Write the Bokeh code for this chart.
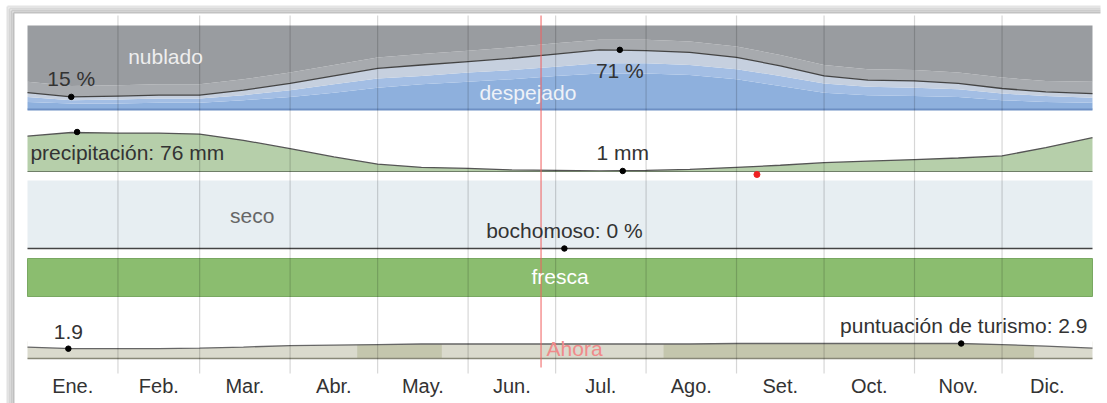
import numpy as np
from bokeh.plotting import figure
from bokeh.models import Range1d
from bokeh.core.properties import value
from bokeh.embed import file_html
from bokeh.resources import INLINE

# ---------------- data ----------------
months = ["Ene.", "Feb.", "Mar.", "Abr.", "May.", "Jun.", "Jul.", "Ago.", "Set.", "Oct.", "Nov.", "Dic."]
month_mid = [15.5, 45, 74.5, 105, 135.5, 166, 196.5, 227.5, 258, 288.5, 319, 349.5]
month_edges = [31, 59, 90, 120, 151, 181, 212, 243, 273, 304, 334]

days = [0, 15, 31, 45, 59, 74, 90, 105, 120, 135, 151, 166, 181, 196, 212, 227, 243, 258, 273, 288, 304, 319, 334, 349, 365]

# cloud cover cumulative boundaries (% of time)
cloud_clear = [9, 7, 7, 8, 8, 11, 15, 20, 26, 30, 33, 36, 40, 43, 43, 41, 36, 28, 20, 17, 16, 15, 11, 9, 8]
cloud_mostly_clear = [15, 11, 12, 13, 13, 17, 23, 30, 37, 40, 44, 47, 51, 55, 55, 53, 48, 40, 31, 27, 26, 24, 19, 16, 14]
cloud_line = [20, 15, 16, 17, 17, 23, 31, 40, 49, 53, 57, 61, 66, 71, 70, 68, 62, 52, 40, 35, 34, 31, 25, 21, 19]
cloud_partly = [33, 28, 29, 30, 30, 36, 44, 53, 62, 66, 70, 74, 79, 83, 83, 81, 75, 65, 53, 48, 47, 44, 38, 34, 33]

precip_mm = [68, 75, 74, 74, 72, 60, 44, 28, 14, 8, 6, 3, 2, 1, 2, 4, 8, 12, 17, 20, 23, 26, 30, 46, 65]
muggy_pct = [0, 0, 0, 0, 0, 0, 0, 0, 0, 0, 0, 0, 0, 0, 0, 0, 0, 0, 0, 0, 0, 0, 0, 0, 0]
tourism = [2.2, 1.9, 1.9, 1.9, 2.0, 2.2, 2.5, 2.6, 2.7, 2.8, 2.8, 2.8, 2.8, 2.8, 2.8, 2.8, 2.9, 2.9, 2.9, 2.9, 2.9, 2.9, 2.7, 2.4, 2.0]
tourism_good_start = [113, 218]
tourism_good_end = [142, 345]

cloud_min_day, cloud_min = 15, 15
cloud_max_day, cloud_max = 203, 71
precip_max_day, precip_max = 17, 76
precip_min_day, precip_min = 204, 1
muggy_day, muggy_val = 184, 0
tour_min_day, tour_min = 14, 1.9
tour_max_day, tour_max = 320, 2.9
now_day = 176
red_day = 250

# ---------------- layout (screen px) ----------------
W, H = 1107, 403
FT, FB = 0, 403           # frame top / bottom in page pixels
FL, FR = 0, 1107
X0, X1 = 27, 1092         # day 0 / day 365
k = (X1 - X0) / 365.0
TY = -7                   # text vertical adjustment

def band_range(v_lo, y_lo, v_hi, y_hi):
    s = (v_hi - v_lo) / (y_lo - y_hi)
    return Range1d(v_lo - (FB - y_lo) * s, v_lo + (y_lo - FT) * s)

p = figure(width=W, height=H, output_backend="svg", toolbar_location=None,
           x_axis_type=None, y_axis_type=None,
           x_range=Range1d(-(X0 - FL) / k, 365 + (FR - X1) / k),
           y_range=Range1d(FB, FT),
           min_border=0, min_border_left=0, min_border_right=0,
           min_border_top=0, min_border_bottom=0)
p.outline_line_color = None
p.background_fill_color = "white"
p.border_fill_color = "white"
p.extra_x_ranges = {"px": Range1d(FL, FR)}
p.extra_y_ranges = {
    "cloud": band_range(0, 109, 100, 25),
    "precip": band_range(0, 171, 76, 131.5),
    "muggy": band_range(0, 248, 100, 180),
    "tour": band_range(0, 358, 2.9, 343),
}
FONT = value("Liberation Sans")

# ---------- frame shadow ----------
for (a, b, c) in [(5, 7, "#e4e4e4"), (7, 9, "#d8d8d8"), (9, 11, "#cccccc"), (11, 13, "#c2c2c2")]:
    p.quad(left=a + 2, right=1100, bottom=b, top=a, fill_color=c, line_color=None, x_range_name="px")
for (a, b, c) in [(6, 8, "#e2e2e2"), (8, 10, "#d6d6d6"), (10, 12, "#cacaca"), (12, 14, "#bfbfbf")]:
    p.quad(left=a, right=b, bottom=403, top=a, fill_color=c, line_color=None, x_range_name="px")

# ---------- cloud panel ----------
p.varea(x=days, y1=0, y2=cloud_clear, fill_color="#8eb0dd", y_range_name="cloud")
p.varea(x=days, y1=cloud_clear, y2=cloud_mostly_clear, fill_color="#a3bee4", y_range_name="cloud")
p.varea(x=days, y1=cloud_mostly_clear, y2=cloud_line, fill_color="#c6d0df", y_range_name="cloud")
p.varea(x=days, y1=cloud_line, y2=cloud_partly, fill_color="#a7aaae", y_range_name="cloud")
p.varea(x=days, y1=cloud_partly, y2=100, fill_color="#999ca0", y_range_name="cloud")
p.line(x=days, y=cloud_line, line_color="#444444", line_width=1.3, y_range_name="cloud")
p.line(x=[0, 365], y=[0, 0], line_color="#6d8fc4", line_width=2, y_range_name="cloud")

# ---------- precipitation ----------
p.varea(x=days, y1=0, y2=precip_mm, fill_color="#b6cfaa", y_range_name="precip")
p.line(x=days, y=precip_mm, line_color="#555555", line_width=1.3, y_range_name="precip")
p.line(x=[0, 365], y=[0, 0], line_color="#6f7f68", line_width=1.2, y_range_name="precip")

# ---------- muggy ----------
p.quad(left=0, right=365, bottom=248, top=180, fill_color="#e7eef2", line_color=None)
p.line(x=days, y=muggy_pct, line_color="#444444", line_width=1.3, y_range_name="muggy")

# ---------- temperature band ----------
p.quad(left=0, right=365, bottom=296, top=258, fill_color="#8bbd6f", line_color="#79a862", line_width=1)

# ---------- tourism ----------
p.quad(left=0, right=365, bottom=0, top=3.3, fill_color="#dadacd", line_color=None, y_range_name="tour")
p.quad(left=tourism_good_start, right=tourism_good_end, bottom=0, top=3.3,
       fill_color="#c4c6ad", line_color=None, y_range_name="tour")
p.varea(x=days, y1=tourism, y2=3.6, fill_color="white", y_range_name="tour")
p.line(x=days, y=tourism, line_color="#666666", line_width=1.3, y_range_name="tour")
p.line(x=[0, 365], y=[0, 0], line_color="#888878", line_width=1.5, y_range_name="tour")

# ---------- month grid + now ----------
p.segment(x0=month_edges, x1=month_edges, y0=15, y1=373, line_color="#000000", line_alpha=0.16, line_width=1.2)
p.segment(x0=[now_day], x1=[now_day], y0=15, y1=367, line_color="#f06060", line_alpha=0.85, line_width=1.2)

# ---------- dots ----------
p.scatter(x=[cloud_min_day, cloud_max_day], y=[cloud_min, cloud_max], size=5.5, color="black", y_range_name="cloud")
p.scatter(x=[precip_max_day, precip_min_day], y=[precip_max, precip_min], size=5.5, color="black", y_range_name="precip")
p.scatter(x=[muggy_day], y=[muggy_val], size=5.5, color="black", y_range_name="muggy")
p.scatter(x=[tour_min_day, tour_max_day], y=[tour_min, tour_max], size=5.5, color="black", y_range_name="tour")
p.scatter(x=[red_day], y=[174], size=6, color="#ee2222")

# ---------- texts ----------
def txt(x, y, s, color="#333333", align="center", **kw):
    p.text(x=[x], y=[y + TY], text=[s], text_font=FONT, text_font_size="21px",
           text_color=color, text_align=align, text_baseline="alphabetic", **kw)

txt(34.5, 63, "nublado", color="#eeeeee", align="left")
txt(cloud_min_day, 85, f"{cloud_min} %")
txt(cloud_max_day, 77, f"{cloud_max} %")
txt(171.5, 99, "despejado", color="#eef2f8")
txt(1, 159, f"precipitación: {precip_max} mm", align="left")
txt(precip_min_day, 159, f"{precip_min} mm")
txt(77, 222, "seco", color="#666666")
txt(muggy_day, 237, f"bochomoso: {muggy_val} %")
txt(182.5, 283, "fresca", color="#ffffff")
txt(tour_min_day, 338, f"{tour_min}")
txt(365 - 1.7, 332, f"puntuación de turismo: {tour_max}", align="right")
txt(187.5, 355, "Ahora", color="#f08a8a")
p.text(x=month_mid, y=[392 + TY] * 12, text=months, text_font=FONT, text_font_size="20px",
       text_color="#333333", text_align="center", text_baseline="alphabetic")

open("out.html", "w").write(file_html(p, INLINE))
